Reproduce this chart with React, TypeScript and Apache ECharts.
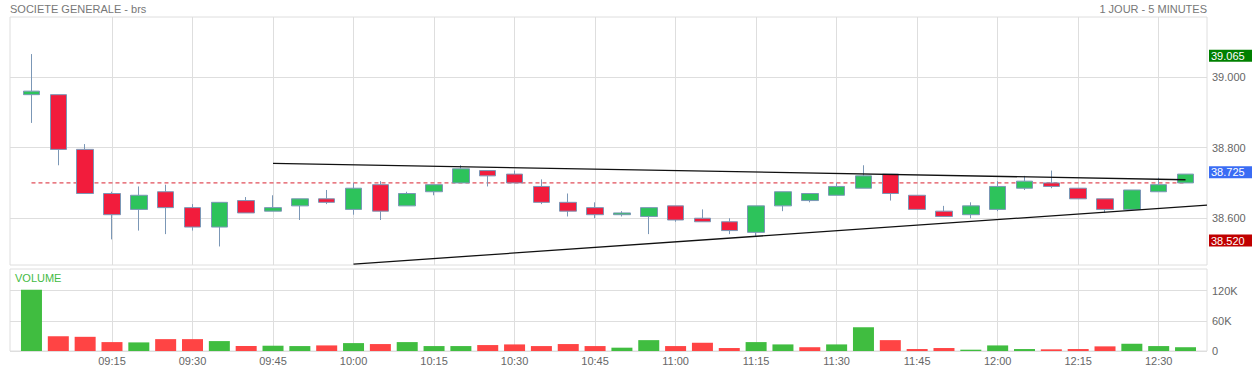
import React, { useEffect, useRef } from 'react';
import * as echarts from 'echarts';

// ---- data ----
const times = [
  '09:00', '09:05', '09:10', '09:15', '09:20', '09:25', '09:30', '09:35', '09:40', '09:45', '09:50', '09:55',
  '10:00', '10:05', '10:10', '10:15', '10:20', '10:25', '10:30', '10:35', '10:40', '10:45', '10:50', '10:55',
  '11:00', '11:05', '11:10', '11:15', '11:20', '11:25', '11:30', '11:35', '11:40', '11:45', '11:50', '11:55',
  '12:00', '12:05', '12:10', '12:15', '12:20', '12:25', '12:30', '12:35',
];
const opens = [
  38.95, 38.95, 38.795, 38.67, 38.625, 38.675, 38.63, 38.575, 38.65, 38.62, 38.635, 38.655,
  38.625, 38.695, 38.635, 38.675, 38.7, 38.735, 38.725, 38.69, 38.645, 38.63, 38.61, 38.605,
  38.635, 38.6, 38.59, 38.56, 38.635, 38.65, 38.665, 38.685, 38.725, 38.665, 38.62, 38.61,
  38.625, 38.685, 38.7, 38.685, 38.655, 38.625, 38.675, 38.7,
];
const closes = [
  38.96, 38.795, 38.67, 38.61, 38.665, 38.63, 38.575, 38.645, 38.615, 38.63, 38.655, 38.645,
  38.685, 38.62, 38.67, 38.695, 38.74, 38.72, 38.7, 38.645, 38.62, 38.61, 38.615, 38.63,
  38.595, 38.59, 38.565, 38.635, 38.675, 38.67, 38.69, 38.72, 38.67, 38.625, 38.605, 38.635,
  38.69, 38.705, 38.69, 38.655, 38.625, 38.68, 38.695, 38.725,
];
const lows = [
  38.87, 38.75, 38.67, 38.54, 38.565, 38.555, 38.565, 38.52, 38.615, 38.62, 38.595, 38.64,
  38.61, 38.595, 38.635, 38.665, 38.7, 38.69, 38.7, 38.64, 38.605, 38.6, 38.605, 38.555,
  38.59, 38.59, 38.555, 38.55, 38.62, 38.645, 38.665, 38.685, 38.65, 38.625, 38.605, 38.6,
  38.62, 38.68, 38.685, 38.655, 38.615, 38.625, 38.675, 38.7,
];
const highs = [
  39.065, 38.95, 38.81, 38.675, 38.69, 38.695, 38.64, 38.645, 38.66, 38.665, 38.655, 38.68,
  38.7, 38.705, 38.675, 38.695, 38.75, 38.735, 38.735, 38.71, 38.67, 38.645, 38.62, 38.63,
  38.635, 38.625, 38.6, 38.635, 38.675, 38.67, 38.7, 38.75, 38.725, 38.665, 38.635, 38.645,
  38.705, 38.72, 38.735, 38.685, 38.655, 38.68, 38.715, 38.725,
];
const volumes = [
  122000, 29500, 28200, 17700, 17100, 23600, 23600, 19700, 9800, 10500, 9800, 11100,
  15700, 13800, 17700, 9800, 9800, 11800, 13100, 9800, 13800, 9800, 6600, 21600,
  9800, 16400, 5900, 17700, 13100, 7500, 13100, 47200, 21600, 3900, 5900, 2600,
  11100, 3900, 3300, 3900, 9200, 14400, 9800, 7500,
];
const timeTicks = ['09:15', '09:30', '09:45', '10:00', '10:15', '10:30', '10:45', '11:00', '11:15', '11:30', '11:45', '12:00', '12:15', '12:30'];
const priceTicks = [38.6, 38.8, 39.0];
const volumeTicks = [0, 60000, 120000];
const referencePrice = 38.7;
const refLine = ['09:00', '12:35'];
const dayHigh = 39.065;
const lastPrice = 38.725;
const dayLow = 38.52;
const upperTrend: [string, number][] = [['09:45', 38.7555], ['12:35', 38.709]];
const lowerTrend: [string, number][] = [['10:00', 38.47], ['12:39', 38.637]];

// ---- helpers ----
const toMin = (t: string) => {
  const [h, m] = t.split(':').map(Number);
  return (h - 9) * 60 + m;
};
const fmtMin = (v: number) => {
  const h = 9 + Math.floor(v / 60);
  const m = Math.round(v - (h - 9) * 60);
  return String(h).padStart(2, '0') + ':' + String(m).padStart(2, '0');
};

const FONT = '"Liberation Sans", Arial, Helvetica, sans-serif';
const UP = '#2dc35b';
const DOWN = '#f21c3c';
const WICK = '#7b97b6';
const VOL_UP = '#40bd40';
const VOL_DOWN = '#ff4444';
const GRID = '#dedede';

export default function App() {
  const ref = useRef<HTMLDivElement>(null);

  useEffect(() => {
    if (!ref.current) return;
    const chart = echarts.init(ref.current, undefined, { renderer: 'svg' });
    const mins = times.map(toMin);
    const tickMins = timeTicks.map(toMin);

    const candleData = mins.map((x, i) => [x, opens[i], closes[i], lows[i], highs[i]]);
    const volData = mins.map((x, i) => {
      const up = i === 0 ? closes[i] >= opens[i] : closes[i] >= closes[i - 1];
      return { value: [x, volumes[i]], itemStyle: { color: up ? VOL_UP : VOL_DOWN } };
    });

    const tag = (value: number, bg: string, extra: any = {}) => ({
      yAxis: value,
      lineStyle: { color: 'transparent', width: 0 },
      label: {
        show: true,
        position: 'end',
        distance: 2,
        formatter: value.toFixed(3),
        backgroundColor: bg,
        color: '#fff',
        fontSize: 11,
        fontFamily: FONT,
        lineHeight: 11,
        padding: [1, 10, 0, 2],
        ...extra,
      },
    });

    const xCommon = {
      type: 'value',
      min: -4,
      max: 219,
      axisLine: { show: false },
      axisTick: { show: false, customValues: tickMins },
      splitLine: { show: true, lineStyle: { color: GRID, width: 1 } },
    };

    const option: any = {
      animation: false,
      backgroundColor: '#fff',
      textStyle: { fontFamily: FONT },
      title: [
        { text: 'SOCIETE GENERALE - brs', left: 10, top: 3, padding: 0, textStyle: { fontSize: 11, fontWeight: 'normal', color: '#777', fontFamily: FONT } },
        { text: '1 JOUR - 5 MINUTES', right: 45, top: 3, padding: 0, textStyle: { fontSize: 11, fontWeight: 'normal', color: '#777', fontFamily: FONT } },
        { text: 'VOLUME', left: 15, top: 272, padding: 0, textStyle: { fontSize: 11, fontWeight: 'normal', color: '#44bb44', fontFamily: FONT } },
      ],
      grid: [
        { left: 10, right: 45, top: 17, height: 248, show: true, borderColor: GRID, borderWidth: 1, backgroundColor: 'transparent', containLabel: false, outerBoundsMode: 'none' },
        { left: 10, right: 45, top: 269, height: 82, show: true, borderColor: GRID, borderWidth: 1, backgroundColor: 'transparent', containLabel: false, outerBoundsMode: 'none' },
      ],
      xAxis: [
        { ...xCommon, gridIndex: 0, axisLabel: { show: false, customValues: tickMins } },
        {
          ...xCommon, gridIndex: 1,
          axisLabel: { show: true, customValues: tickMins, formatter: (v: number) => fmtMin(v), fontSize: 11, color: '#666', fontFamily: FONT, margin: 4 },
        },
      ],
      yAxis: [
        {
          type: 'value', gridIndex: 0, position: 'right', min: 38.4675, max: 39.17, scale: true,
          axisLine: { show: false },
          axisTick: { show: false, customValues: priceTicks },
          axisLabel: { customValues: priceTicks, formatter: (v: number) => v.toFixed(3), fontSize: 11, color: '#666', fontFamily: FONT, margin: 5 },
          splitLine: { show: true, lineStyle: { color: GRID, width: 1 } },
        },
        {
          type: 'value', gridIndex: 1, position: 'right', min: 0, max: 163000,
          axisLine: { show: false },
          axisTick: { show: false, customValues: volumeTicks },
          axisLabel: { customValues: volumeTicks, formatter: (v: number) => (v === 0 ? '0' : v / 1000 + 'K'), fontSize: 11, color: '#666', fontFamily: FONT, margin: 5 },
          splitLine: { show: true, lineStyle: { color: GRID, width: 1 } },
        },
      ],
      series: [
        {
          type: 'line', xAxisIndex: 0, yAxisIndex: 0, z: 1, silent: true, symbol: 'none',
          data: refLine.map((t) => [toMin(t), referencePrice]),
          lineStyle: { color: '#d9202f', width: 1, type: [4, 3] },
        },
        {
          type: 'candlestick', xAxisIndex: 0, yAxisIndex: 0, z: 2, barWidth: 17,
          data: candleData,
          itemStyle: { color: UP, color0: DOWN, borderColor: WICK, borderColor0: WICK, borderWidth: 1 },
          markLine: {
            silent: true,
            symbol: ['none', 'none'],
            data: [
              tag(dayHigh, '#008000'),
              tag(lastPrice, '#3a6cf4'),
              tag(dayLow, '#c00000', { verticalAlign: 'bottom' }),
            ],
          },
        },
        {
          type: 'line', xAxisIndex: 0, yAxisIndex: 0, z: 3, silent: true, symbol: 'none',
          data: upperTrend.map(([t, v]) => [toMin(t), v]),
          lineStyle: { color: '#111', width: 1.3 },
        },
        {
          type: 'line', xAxisIndex: 0, yAxisIndex: 0, z: 3, silent: true, symbol: 'none',
          data: lowerTrend.map(([t, v]) => [toMin(t), v]),
          lineStyle: { color: '#111', width: 1.3 },
        },
        {
          type: 'bar', xAxisIndex: 1, yAxisIndex: 1, barWidth: 21, data: volData,
        },
      ],
    };
    chart.setOption(option);
    return () => chart.dispose();
  }, []);

  return (
    <div
      ref={ref}
      style={{ position: 'fixed', left: 0, top: 0, width: 1252, height: 372, background: '#fff' }}
    />
  );
}
